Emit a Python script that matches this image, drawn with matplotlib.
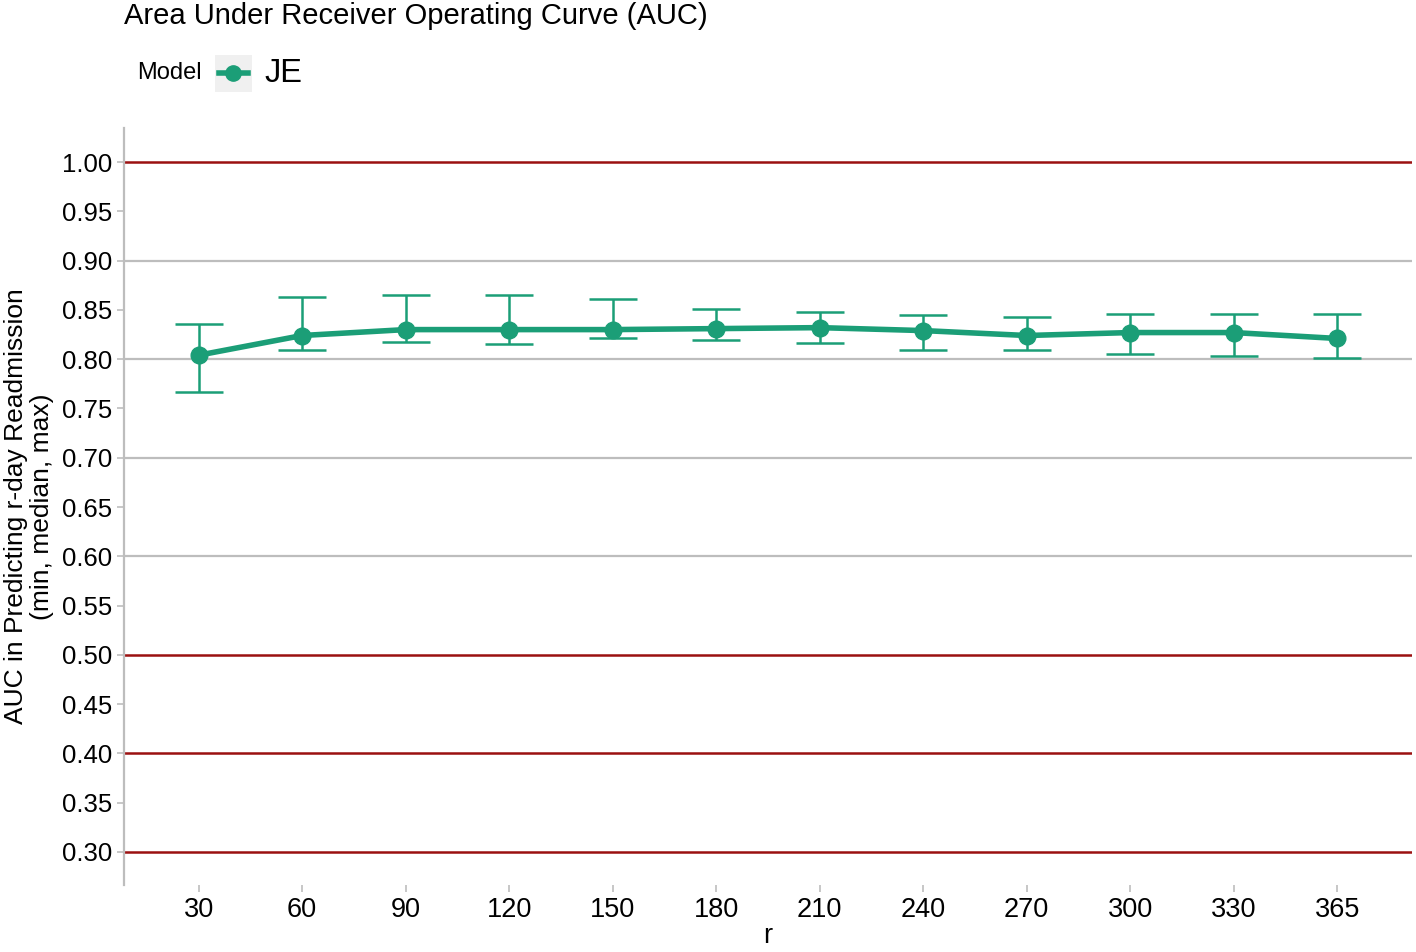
import matplotlib
matplotlib.use("Agg")
import matplotlib.pyplot as plt
import numpy as np

plt.rcParams['font.family'] = ['Liberation Sans', 'DejaVu Sans']

categories = ["30", "60", "90", "120", "150", "180", "210", "240", "270", "300", "330", "365"]
auc_median = [0.804, 0.824, 0.830, 0.830, 0.830, 0.831, 0.832, 0.829, 0.824, 0.827, 0.827, 0.821]
auc_min = [0.767, 0.809, 0.817, 0.815, 0.821, 0.819, 0.816, 0.809, 0.809, 0.805, 0.803, 0.801]
auc_max = [0.836, 0.863, 0.865, 0.865, 0.861, 0.851, 0.848, 0.845, 0.843, 0.846, 0.846, 0.846]
y_ticks = [0.30, 0.35, 0.40, 0.45, 0.50, 0.55, 0.60, 0.65, 0.70, 0.75, 0.80, 0.85, 0.90, 0.95, 1.00]
gray_lines = [0.60, 0.70, 0.80, 0.90]
red_lines = [0.30, 0.40, 0.50, 1.00]

green = "#1b9e77"
fig = plt.figure(figsize=(14.16, 9.52), dpi=100)
ax = fig.add_axes([0.0876, 0.0704, 0.9094, 0.7951])

x = np.arange(len(categories))
med = np.array(auc_median)
lo = med - np.array(auc_min)
hi = np.array(auc_max) - med

for g in gray_lines:
    ax.axhline(g, color="#bdbdbd", lw=1.6, zorder=1)
for r in red_lines:
    ax.axhline(r, color="#9b1010", lw=1.8, zorder=1)

ax.errorbar(x, med, yerr=[lo, hi], fmt="none", ecolor=green, elinewidth=1.8,
            capsize=17, capthick=1.8, zorder=3)
ax.plot(x, med, color=green, lw=4, marker="o", markersize=12, zorder=4)

ax.set_xlim(-0.72, 11.72)
ax.set_ylim(0.2665, 1.0345)
ax.set_xticks(x)
ax.set_xticklabels(categories)
ax.set_yticks(y_ticks)
ax.set_yticklabels([f"{v:.2f}" for v in y_ticks])
ax.tick_params(axis="both", colors="#bdbdbd", labelcolor="black", length=5, width=1.2)
ax.tick_params(axis="y", labelsize=18.5)
ax.tick_params(axis="x", labelsize=19.5, pad=4)
for s in ["top", "right", "bottom"]:
    ax.spines[s].set_visible(False)
ax.spines["left"].set_color("#bdbdbd")
ax.spines["left"].set_linewidth(1.6)

ax.set_xlabel("r", fontsize=19.5, labelpad=0)
ax.set_ylabel("AUC in Predicting r-day Readmission\n(min, median, max)", fontsize=19, labelpad=6, linespacing=1.1)

fig.text(124/1416, 1 - 16/952, "Area Under Receiver Operating Curve (AUC)", fontsize=21, va="center", ha="left")

# legend
fig.text(137/1416, 1 - 73/952, "Model", fontsize=17, va="center", ha="left")
fig.patches.append(matplotlib.patches.Rectangle((215/1416, 1 - 92/952), 37/1416, 37/952,
                                                transform=fig.transFigure, facecolor="#f0f0f0", edgecolor="none"))
fig.lines.append(matplotlib.lines.Line2D([219/1416, 248/1416], [1 - 73/952, 1 - 73/952], transform=fig.transFigure,
                                         color=green, lw=4))
fig.lines.append(matplotlib.lines.Line2D([233.5/1416], [1 - 73/952], transform=fig.transFigure,
                                         color=green, marker="o", markersize=11))
fig.text(264/1416, 1 - 73/952, "JE", fontsize=23.5, va="center", ha="left")

fig.savefig("out.png", dpi=100)
